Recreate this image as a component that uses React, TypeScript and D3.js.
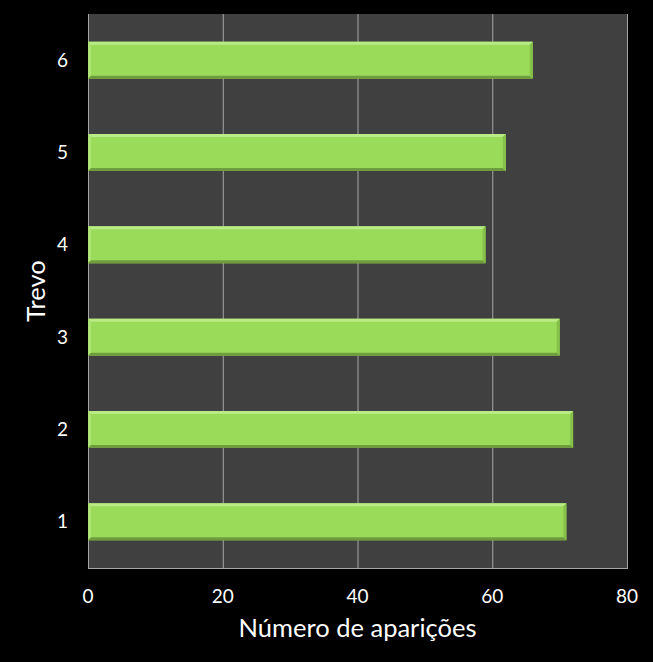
import * as d3 from 'd3';
import React, { useEffect, useRef } from 'react';

const categories: string[] = ['1', '2', '3', '4', '5', '6'];
const values: number[] = [71, 72, 70, 59, 62, 66];
const xTicks: number[] = [0, 20, 40, 60, 80];
const xTitle = 'Número de aparições';
const yTitle = 'Trevo';

const width = 653;
const height = 662;
const margin = { top: 14, right: 26, bottom: 94, left: 88 };

const App: React.FC = () => {
  const ref = useRef<SVGSVGElement>(null);
  useEffect(() => {
    const svg = d3.select(ref.current);
    svg.selectAll('*').remove();
    const font = 'Lato, "Open Sans", "Liberation Sans", sans-serif';

    const x = d3.scaleLinear().domain([0, 80]).range([margin.left, width - margin.right]);
    const y = d3
      .scaleBand<string>()
      .domain([...categories].reverse())
      .range([margin.top, height - margin.bottom])
      .paddingInner(0.6)
      .paddingOuter(0.3);

    svg.append('rect').attr('width', width).attr('height', height).attr('fill', '#000');
    svg
      .append('rect')
      .attr('x', x(0))
      .attr('y', margin.top)
      .attr('width', x(80) - x(0))
      .attr('height', height - margin.bottom - margin.top)
      .attr('fill', '#404040');

    // gridlines
    svg
      .append('g')
      .selectAll('line')
      .data(xTicks.slice(1))
      .join('line')
      .attr('x1', (d) => x(d) + 0.5)
      .attr('x2', (d) => x(d) + 0.5)
      .attr('y1', margin.top)
      .attr('y2', height - margin.bottom)
      .attr('stroke', '#a6a6a6')
      .attr('stroke-width', 1);

    // axis lines
    svg
      .append('line')
      .attr('x1', x(0) + 0.5)
      .attr('x2', x(0) + 0.5)
      .attr('y1', margin.top)
      .attr('y2', height - margin.bottom)
      .attr('stroke', '#a6a6a6');
    svg
      .append('line')
      .attr('x1', x(0))
      .attr('x2', x(80) + 1)
      .attr('y1', height - margin.bottom + 0.5)
      .attr('y2', height - margin.bottom + 0.5)
      .attr('stroke', '#a6a6a6');

    // bars
    const bars = svg
      .append('g')
      .selectAll('g')
      .data(categories.map((c, i) => ({ c, v: values[i] })))
      .join('g');
    const bev = 3;
    bars
      .append('rect')
      .attr('x', x(0))
      .attr('y', (d) => y(d.c)!)
      .attr('width', (d) => x(d.v) - x(0))
      .attr('height', y.bandwidth())
      .attr('fill', '#9bdb5a');
    // top highlight
    bars
      .append('path')
      .attr('d', (d) => {
        const x0 = x(0), x1 = x(d.v), y0 = y(d.c)!;
        return `M${x0},${y0}L${x1},${y0}L${x1 - bev},${y0 + bev}L${x0 + bev},${y0 + bev}Z`;
      })
      .attr('fill', '#b9ec86');
    // left highlight
    bars
      .append('path')
      .attr('d', (d) => {
        const x0 = x(0), y0 = y(d.c)!, y1 = y0 + y.bandwidth();
        return `M${x0},${y0}L${x0 + bev},${y0 + bev}L${x0 + bev},${y1 - bev}L${x0},${y1}Z`;
      })
      .attr('fill', '#aee475');
    // right shade
    bars
      .append('path')
      .attr('d', (d) => {
        const x1 = x(d.v), y0 = y(d.c)!, y1 = y0 + y.bandwidth();
        return `M${x1},${y0}L${x1},${y1}L${x1 - bev},${y1 - bev}L${x1 - bev},${y0 + bev}Z`;
      })
      .attr('fill', '#86c24a');
    // bottom shade
    bars
      .append('path')
      .attr('d', (d) => {
        const x0 = x(0), x1 = x(d.v), y1 = y(d.c)! + y.bandwidth();
        return `M${x0},${y1}L${x1},${y1}L${x1 - bev},${y1 - bev}L${x0 + bev},${y1 - bev}Z`;
      })
      .attr('fill', '#6f9c3c');

    // x tick labels
    svg
      .append('g')
      .selectAll('text')
      .data(xTicks)
      .join('text')
      .attr('x', (d) => x(d))
      .attr('y', height - margin.bottom + 35)
      .attr('text-anchor', 'middle')
      .attr('fill', '#fff')
      .attr('font-family', font)
      .attr('font-size', 19)
      .text((d) => d);

    // y tick labels
    svg
      .append('g')
      .selectAll('text')
      .data(categories)
      .join('text')
      .attr('x', x(0) - 20)
      .attr('y', (d) => y(d)! + y.bandwidth() / 2)
      .attr('dy', '0.35em')
      .attr('text-anchor', 'end')
      .attr('fill', '#fff')
      .attr('font-family', font)
      .attr('font-size', 19)
      .text((d) => d);

    svg
      .append('text')
      .attr('x', (x(0) + x(80)) / 2)
      .attr('y', height - 25)
      .attr('text-anchor', 'middle')
      .attr('fill', '#fff')
      .attr('font-family', font)
      .attr('font-size', 25.5)
      .text(xTitle);

    svg
      .append('text')
      .attr('transform', `translate(45,${(margin.top + height - margin.bottom) / 2}) rotate(-90)`)
      .attr('text-anchor', 'middle')
      .attr('fill', '#fff')
      .attr('font-family', font)
      .attr('font-size', 25.5)
      .text(yTitle);
  }, []);
  return (
    <div style={{ position: 'absolute', left: 0, top: 0 }}>
      <svg ref={ref} width={width} height={height} style={{ display: 'block' }}></svg>
    </div>
  );
};

export default App;
